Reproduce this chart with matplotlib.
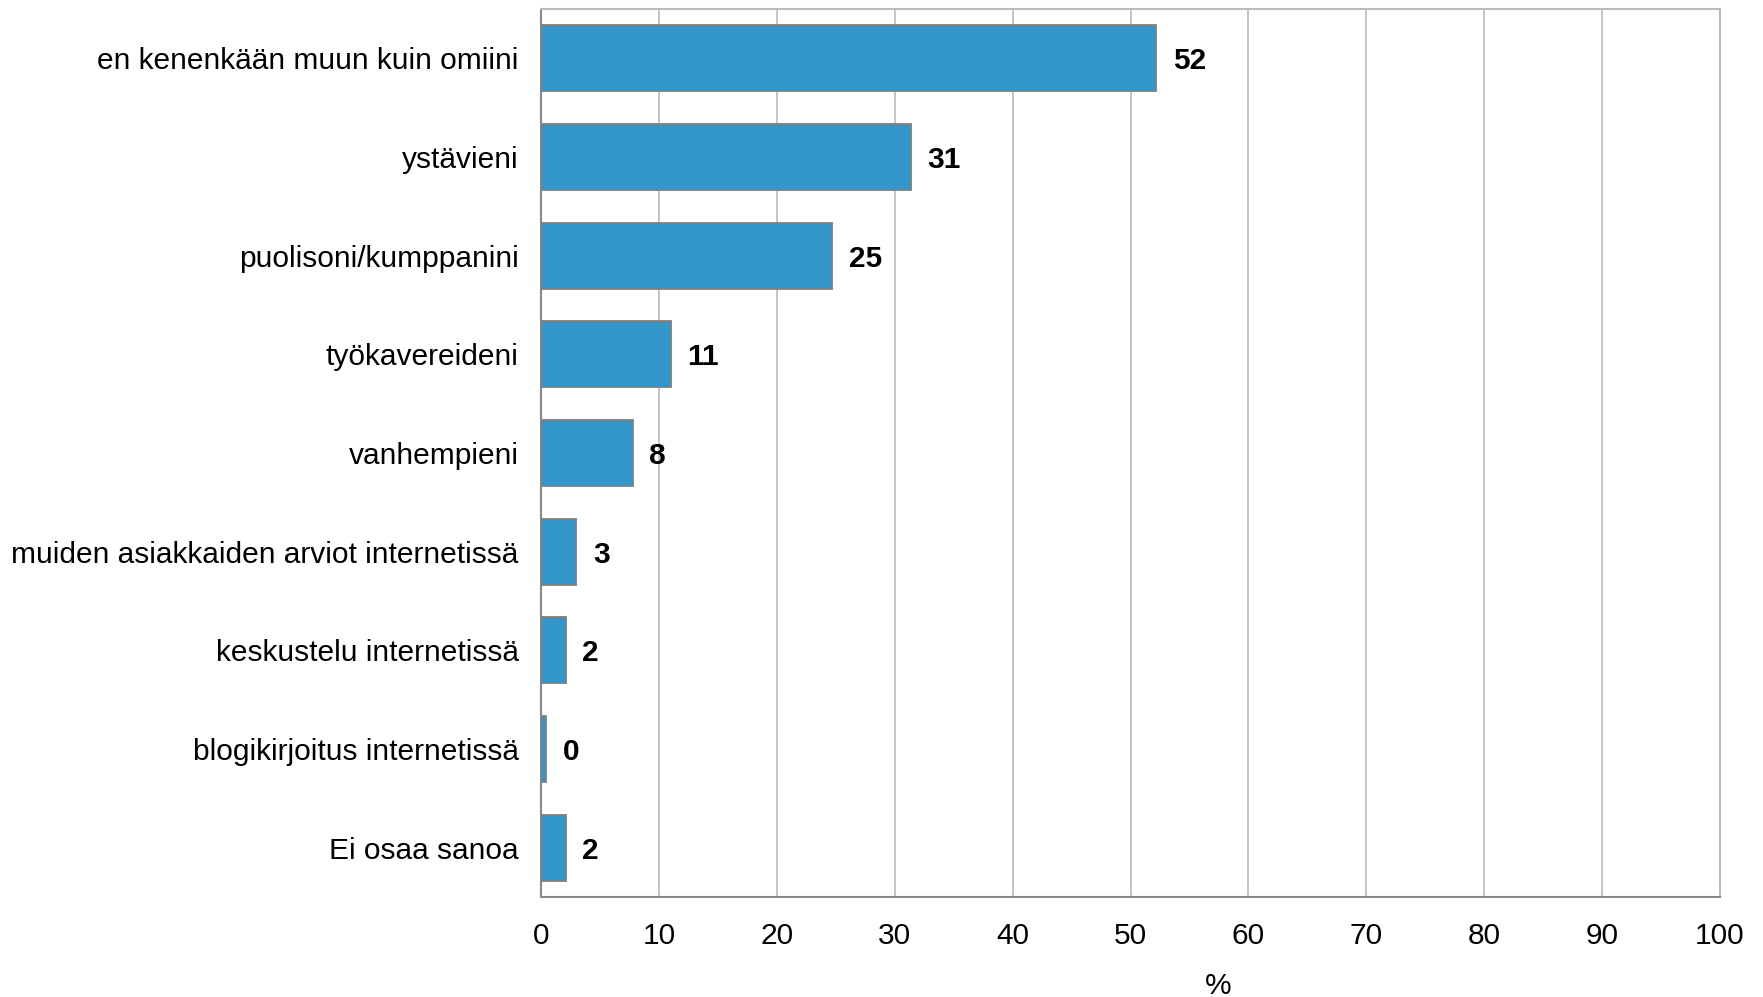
import matplotlib
matplotlib.use("Agg")
import matplotlib.pyplot as plt

# share of respondents (%), top to bottom
categories = [
    "en kenenkään muun kuin omiini",
    "ystävieni",
    "puolisoni/kumppanini",
    "työkavereideni",
    "vanhempieni",
    "muiden asiakkaiden arviot internetissä",
    "keskustelu internetissä",
    "blogikirjoitus internetissä",
    "Ei osaa sanoa",
]
values = [52.2, 31.4, 24.7, 11.0, 7.8, 3.0, 2.1, 0.45, 2.1]
xticks = list(range(0, 101, 10))

plt.rcParams['font.family'] = ['Liberation Sans', 'DejaVu Sans']

fig = plt.figure(figsize=(17.63, 9.97), dpi=100)
ax = fig.add_axes([541/1763, 1 - 897/997, (1720-541)/1763, (897-9)/997])

ypos = list(range(len(categories)))
ax.barh(ypos, values, height=0.67, color='#3396C8', edgecolor='#7F7F7F', linewidth=1.3, zorder=3)

for y, v in zip(ypos, values):
    ax.text(v + 1.4, y + 0.03, f"{round(v):d}", va='center', ha='left',
            fontsize=21.5, fontweight='bold', color='black')

ax.set_xlim(0, 100)
ax.set_ylim(len(categories) - 0.5, -0.5)
ax.set_xticks(xticks)
ax.set_yticks(ypos)
ax.set_yticklabels(categories)
ax.tick_params(axis='both', length=0, labelsize=21.5)
ax.tick_params(axis='x', pad=18)
ax.tick_params(axis='y', pad=16)

ax.grid(axis='x', color='#C0C0C0', linewidth=1.3, zorder=0)
ax.set_axisbelow(True)
for side in ['left', 'bottom']:
    ax.spines[side].set_color('#888888')
    ax.spines[side].set_linewidth(1.5)
for side in ['top', 'right']:
    ax.spines[side].set_color('#BBBBBB')
    ax.spines[side].set_linewidth(1.5)

ax.set_xlabel('%', fontsize=21.5)
ax.xaxis.set_label_coords(0.574, -0.084)

fig.savefig('out.png', dpi=100)
